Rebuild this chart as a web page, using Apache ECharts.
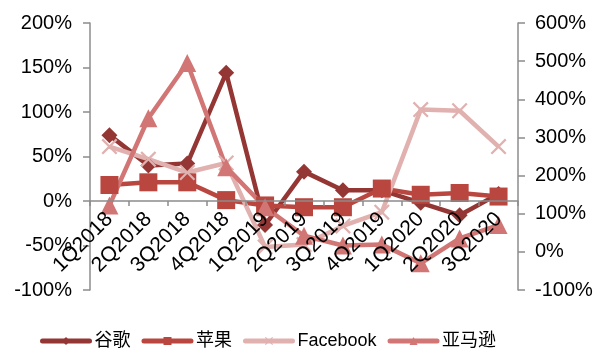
<!DOCTYPE html>
<html><head><meta charset="utf-8">
<script src="https://cdn.jsdelivr.net/npm/echarts@6/dist/echarts.min.js"></script>
<style>html,body{margin:0;padding:0;background:#fff}#c{width:598px;height:350px}</style>
</head><body><div id="c"></div>
<script>
const categories = ['1Q2018','2Q2018','3Q2018','4Q2018','1Q2019','2Q2019','3Q2019','4Q2019','1Q2020','2Q2020','3Q2020'];
const google = [74, 40, 42, 144, -27, 33, 12, 12, -2, -16, 8];
const apple = [18, 21, 21, 1, -5, -7, -7, 14, 7, 9, 5];
const facebook = [276, 243, 208, 233, 13, 19, 68, 104, 373, 370, 276];
const amazon = [-5, 93, 155, 38, -7, -39, -50, -49, -70, -42, -27];
const leftTicks = [-100, 200, 50];
const rightTicks = [-100, 600, 100];

const FONT = '"Liberation Sans", Arial, "Noto Sans CJK SC", sans-serif';
const chart = echarts.init(document.getElementById('c'));
const GRID_TOP = 23, GRID_BOTTOM = 60, H = 350;
const gridH = H - GRID_TOP - GRID_BOTTOM;
// move the category axis up to the zero line of the left axis
const zeroOffset = -gridH * (0 - leftTicks[0]) / (leftTicks[1] - leftTicks[0]);
const axisLine = {show: true, lineStyle: {color: '#8c8c8c', width: 1.5}};
const XPATH = 'path://M0,1 L1,0 L5,4 L9,0 L10,1 L6,5 L10,9 L9,10 L5,6 L1,10 L0,9 L4,5 Z';
function mk(name, data, color, symbol, size, yIdx) {
  return {name, type: 'line', data, yAxisIndex: yIdx, symbol, symbolSize: size,
    lineStyle: {color, width: 4.5}, itemStyle: {color, borderWidth: 0}, z: 2};
}
chart.setOption({
  animation: false,
  textStyle: {fontFamily: FONT},
  grid: {left: 90, right: 80, top: GRID_TOP, bottom: GRID_BOTTOM, outerBoundsMode: 'none', containLabel: false},
  legend: {left: 35, top: 327, itemWidth: 47, itemHeight: 10, itemGap: 11,
    lineStyle: {width: 5, cap: 'round'},
    textStyle: {fontSize: 18, color: '#000', fontFamily: FONT},
    data: ['谷歌','苹果','Facebook','亚马逊']},
  xAxis: {type: 'category', data: categories, offset: zeroOffset, z: 10,
    axisLine: {show: true, onZero: false, lineStyle: {color: '#8c8c8c', width: 1.5}},
    axisTick: {show: true, length: 5, lineStyle: {color: '#8c8c8c', width: 1.5}},
    axisLabel: {rotate: 45, fontSize: 21, color: '#000', margin: 15, interval: 0}},
  yAxis: [
    {type: 'value', min: leftTicks[0], max: leftTicks[1], interval: leftTicks[2],
     axisLine, axisTick: {show: true, length: 7, lineStyle: {color: '#8c8c8c', width: 1.5}},
     splitLine: {show: false},
     axisLabel: {formatter: '{value}%', fontSize: 20, color: '#000', margin: 18}},
    {type: 'value', min: rightTicks[0], max: rightTicks[1], interval: rightTicks[2], position: 'right',
     axisLine, axisTick: {show: true, length: 7, lineStyle: {color: '#8c8c8c', width: 1.5}},
     splitLine: {show: false},
     axisLabel: {formatter: '{value}%', fontSize: 20, color: '#000', margin: 17}}
  ],
  series: [
    mk('谷歌', google, '#943634', 'diamond', 16, 0),
    mk('苹果', apple, '#B9463F', 'rect', 18, 0),
    mk('Facebook', facebook, '#E0B1AF', XPATH, 16, 1),
    mk('亚马逊', amazon, '#D17674', 'triangle', 18, 0)
  ]
});
</script></body></html>
